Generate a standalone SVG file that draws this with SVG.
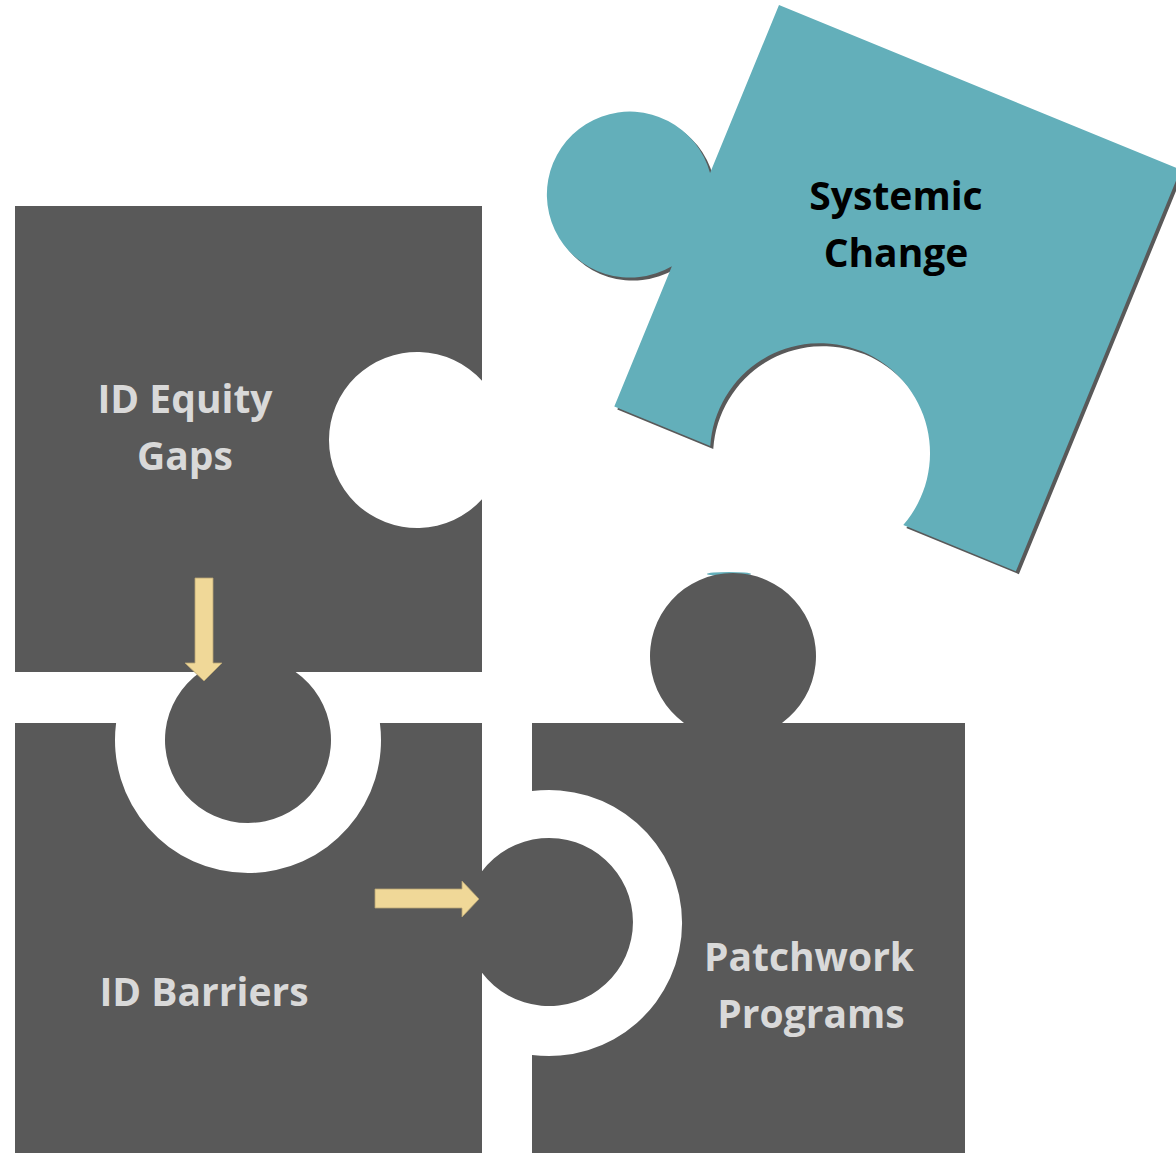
<svg xmlns="http://www.w3.org/2000/svg" width="1176" height="1153" viewBox="0 0 1176 1153">
  <style>
    .piece { fill: #595959; }
    .teal { fill: #63AFBA; }
    .lbl { font-family: "Open Sans", "Noto Sans", "Liberation Sans", sans-serif; font-weight: 700; font-size: 39px; text-anchor: middle; fill: #D9D9D9; }
    .lbl-dark { fill: #000000; }
    .arrow { fill: #F0D898; stroke: #B8A574; stroke-width: 0.8; }
  </style>
  <defs>
    <path id="tealShape" d="M0,0 H434 V434 H312.3 A110,110 0 1,0 103.7,434 H0 V282.3 A83,83 0 1,1 0,181.7 Z"/>
  </defs>
  <rect width="1176" height="1153" fill="#FFFFFF"/>

  <g id="node-systemic-change">
    <use href="#tealShape" transform="translate(782,8) rotate(22.3)" fill="#595959"/>
    <use href="#tealShape" class="teal" transform="translate(779,5) rotate(22.3)"/>
    <text class="lbl lbl-dark" x="896" y="210">Systemic</text>
    <text class="lbl lbl-dark" x="896" y="267">Change</text>
  </g>

  <g id="node-id-equity-gaps">
    <path class="piece" d="M15,206 H482 V380.7 A88,88 0 1,0 482,499.3 V672 H295.6 A83,83 0 1,1 200.4,672 H15 Z"/>
    <text class="lbl" x="185" y="413">ID Equity</text>
    <text class="lbl" x="185" y="470">Gaps</text>
  </g>

  <g id="node-id-barriers">
    <path class="piece" d="M15,723 H116.1 A133,133 0 1,0 379.9,723 H482 V871.3 A84,84 0 1,1 482,972.7 V1153 H15 Z"/>
    <text class="lbl" x="204" y="1006">ID Barriers</text>
  </g>

  <g id="node-patchwork-programs">
    <ellipse cx="729" cy="574" rx="22" ry="2" fill="#63AFBA"/>
    <path class="piece" d="M532,723 H684 A83,83 0 1,1 782,723 H965 V1153 H532 V1054.9 A133,133 0 1,0 532,791.1 Z"/>
    <text class="lbl" x="809" y="971">Patchwork</text>
    <text class="lbl" x="811" y="1028">Programs</text>
  </g>

  <g id="connectors">
    <path class="arrow" d="M195,578 H213 V663 H222 L204,681 L185,663 H195 Z"/>
    <path class="arrow" d="M375,889 H462 V881 L479,899 L462,917 V908 H375 Z"/>
  </g>
</svg>
